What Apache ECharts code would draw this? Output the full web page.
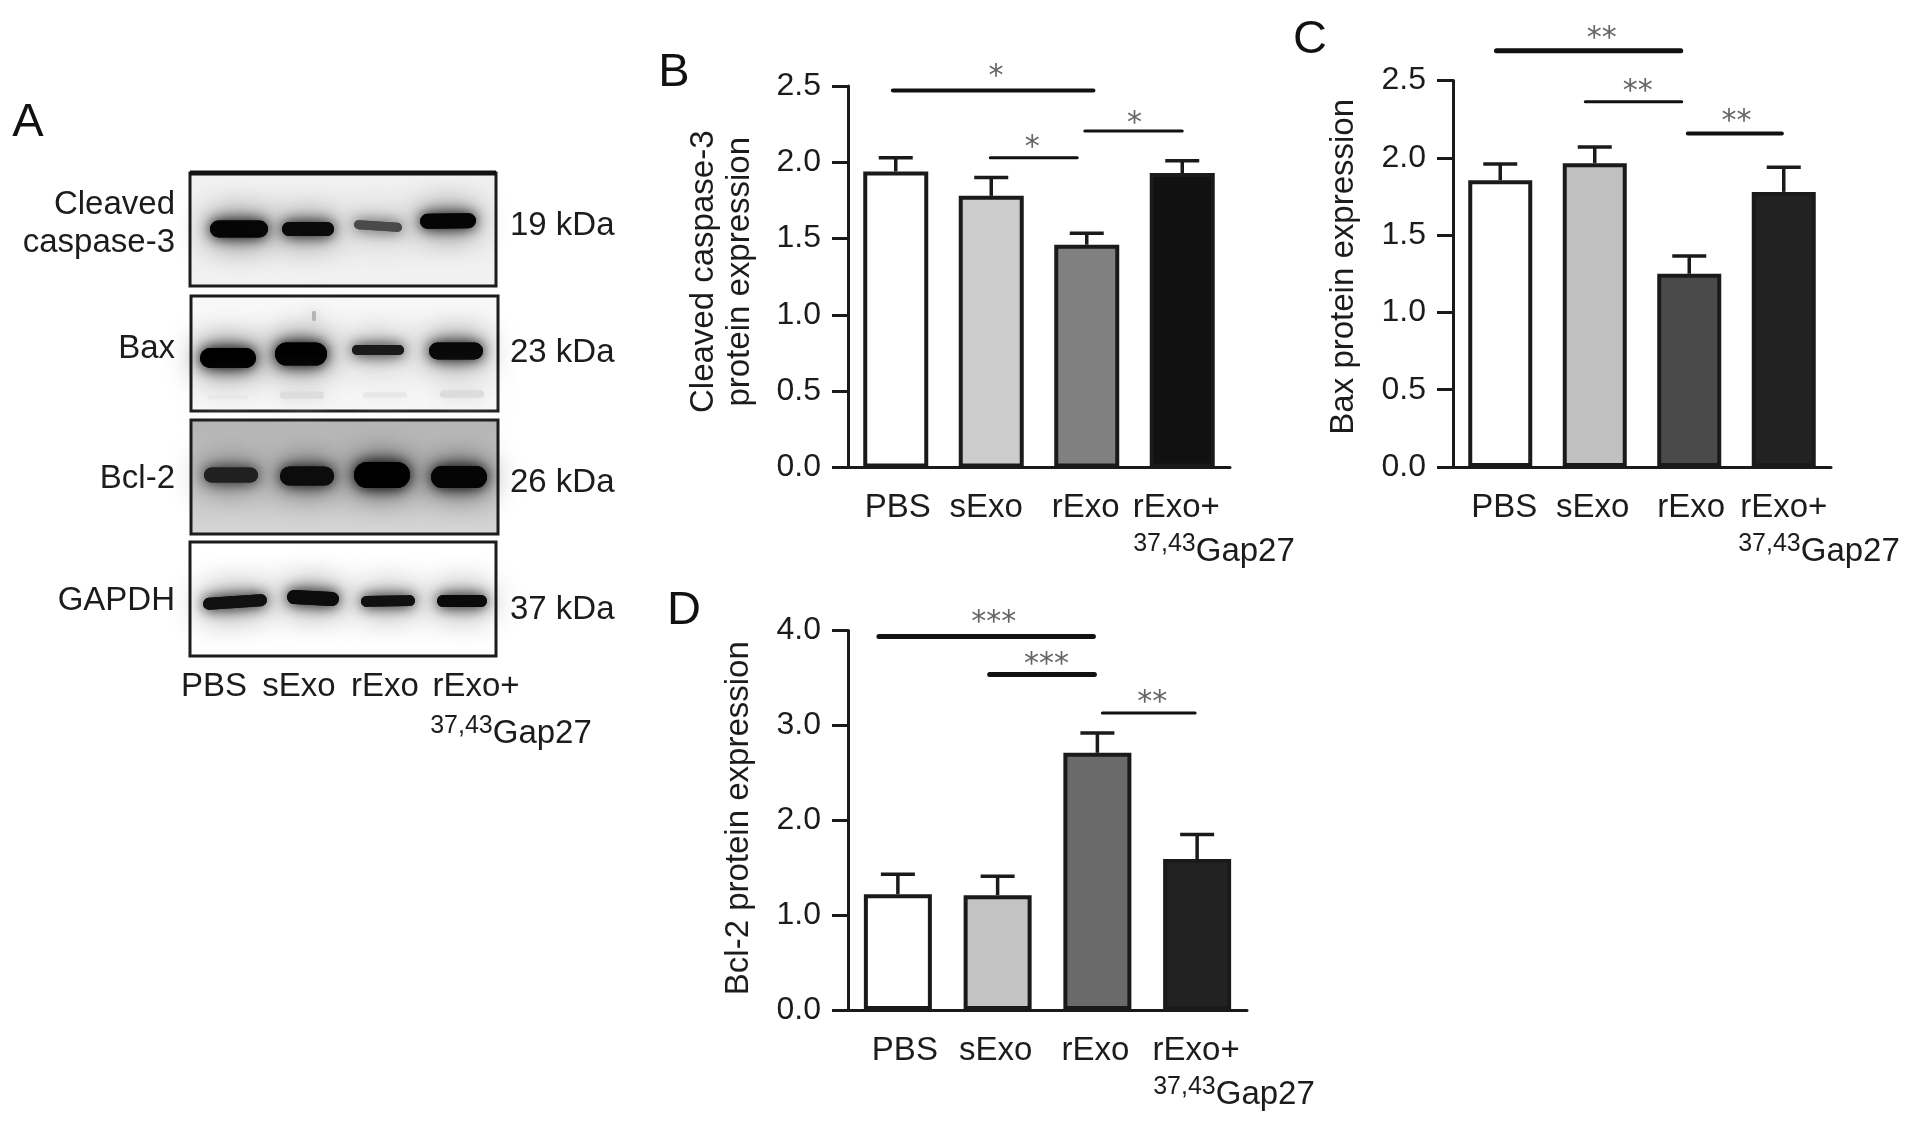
<!DOCTYPE html>
<html>
<head>
<meta charset="utf-8">
<style>html,body{margin:0;background:#fff}#main{width:1913px;height:1125px}</style>
<script src="https://cdn.jsdelivr.net/npm/echarts@6/dist/echarts.min.js"></script>
</head>
<body>
<div id="main"></div>
<script>
var groups = ['PBS', 'sExo', 'rExo', 'rExo+'];

// bar heights and upper error limits
var caspaseMean = [1.94, 1.78, 1.46, 1.93];
var caspaseUpper = [2.03, 1.90, 1.535, 2.01];
var baxMean = [1.855, 1.966, 1.25, 1.78];
var baxUpper = [1.96, 2.07, 1.365, 1.94];
var bclMean = [1.22, 1.21, 2.71, 1.59];
var bclUpper = [1.43, 1.41, 2.92, 1.85];

// significance lines: [from, to, y, line width], x in group units
var caspaseLines = [[-0.03, 2.07, 2.47, 4], [0.99, 1.90, 2.03, 3], [1.98, 3.0, 2.205, 3]];
var baxLines = [[-0.04, 1.91, 2.693, 5], [0.9, 1.92, 2.363, 3], [1.985, 2.98, 2.157, 4]];
var bclLines = [[-0.19, 1.96, 3.935, 5], [0.92, 1.97, 3.535, 5], [2.05, 2.98, 3.13, 3]];
// stars: [x, y, text]
var caspaseStars = [[1.05, 2.6, '*'], [1.43, 2.13, '*'], [2.5, 2.29, '*']];
var baxStars = [[1.075, 2.807, '**'], [1.455, 2.465, '**'], [2.5, 2.27, '**']];
var bclStars = [[0.96, 4.136, '***'], [1.49, 3.70, '***'], [2.55, 3.30, '**']];

// western blot, in px of the blot area: [x, y, w, h, ink, angle]
var blotFrames = [
  [190, 173, 306, 113, '#f1f1f1', 3],
  [191, 296, 307, 115, '#f8f8f8', 3],
  [191, 420, 307, 114, '#c6c6c6', 3],
  [190, 542, 306, 114, '#ffffff', 3]
];
var blotBands = [
  [239, 229, 58, 17, '#050505', 0], [308, 229, 52, 14, '#0a0a0a', 0], [378, 226, 48, 9, '#4a4a4a', 4], [448, 221, 56, 15, '#050505', -1],
  [228, 358, 56, 20, '#000000', 0], [301, 354, 52, 23, '#000000', 0], [378, 350, 52, 10, '#1a1a1a', 0], [456, 351, 54, 17, '#080808', 0],
  [231, 475, 54, 15, '#202020', 0], [307, 476, 54, 19, '#0c0c0c', 0], [382, 475, 56, 26, '#000000', 0], [459, 477, 56, 22, '#050505', 0],
  [235, 602, 64, 12, '#111111', -4], [313, 598, 52, 14, '#0c0c0c', 3], [388, 601, 54, 11, '#111111', -1], [462, 601, 50, 12, '#0a0a0a', 0],
  [228, 397, 40, 4, '#e8e8e8', 0], [302, 395, 44, 7, '#dddddd', 0], [385, 395, 44, 5, '#e8e8e8', 0], [462, 394, 44, 7, '#dcdcdc', 0],
  [314, 316, 4, 10, '#b5b5b5', 0]
];
var blotNames = ['Cleaved\ncaspase-3', 'Bax', 'Bcl-2', 'GAPDH'];
var blotNameY = [224, 349, 479, 601];
var blotKda = ['19 kDa', '23 kDa', '26 kDa', '37 kDa'];
var blotKdaY = [226, 353, 483, 610];
var blotLaneX = [214, 299, 385, 476];
var blotLaneY = 687;

var font = '"Liberation Sans", Arial, sans-serif';
var ink = '#1c1c1c';

var chart = echarts.init(document.getElementById('main'));
var grids = [], xAxes = [], yAxes = [], series = [], graphics = [];

function addPanel(p) {
  var g = grids.length;
  grids.push({ left: p.left, top: p.top, width: p.width, height: p.height });
  var xc = xAxes.length;
  xAxes.push({
    type: 'category', gridIndex: g,
    data: groups.map(function (n, i) {
      var s = p.labelShift[i];
      return { value: n, textStyle: { padding: [0, s < 0 ? -2 * s : 0, 0, s > 0 ? 2 * s : 0] } };
    }),
    axisLine: { onZero: false, lineStyle: { color: '#1a1a1a', width: 3 } },
    axisTick: { alignWithLabel: true, length: 14, lineStyle: { color: '#1a1a1a', width: 3 } },
    axisLabel: { interval: 0, color: ink, fontFamily: font, fontSize: 33, margin: 24 }
  });
  var xv = xc + 1;
  xAxes.push({ type: 'value', gridIndex: g, min: -0.5, max: 3.5, show: false });
  yAxes.push({
    type: 'value', gridIndex: g, min: 0, max: p.max, interval: p.step,
    name: p.title, nameLocation: 'middle', nameRotate: 90, nameGap: p.nameGap,
    nameTextStyle: { color: ink, fontFamily: font, fontSize: 33, lineHeight: 36, padding: [0, 0, 0, p.nameUp * 2] },
    axisLine: { show: true, onZero: false, lineStyle: { color: '#1a1a1a', width: 3 } },
    axisTick: { show: true, length: 16, lineStyle: { color: '#1a1a1a', width: 3 } },
    axisLabel: { color: ink, fontFamily: font, fontSize: 32, margin: 27, padding: [7, 0, 0, 0],
      formatter: function (v) { return v.toFixed(1); } },
    splitLine: { show: false }
  });
  series.push({
    type: 'bar', xAxisIndex: xc, yAxisIndex: g, barWidth: p.barWidth,
    data: p.mean.map(function (v, i) { return { value: v, itemStyle: { color: p.colors[i] } }; }),
    itemStyle: { borderColor: '#1a1a1a', borderWidth: 4 },
    silent: true, z: 3
  });
  // error bars, only the upper half shows
  series.push({
    type: 'custom', xAxisIndex: xc, yAxisIndex: g, clip: false, silent: true, z: 2,
    data: p.mean.map(function (v, i) { return [i, v, p.upper[i]]; }),
    renderItem: function (params, api) {
      var a = api.coord([api.value(0), api.value(1)]);
      var b = api.coord([api.value(0), api.value(2)]);
      var st = { stroke: '#1a1a1a', lineWidth: 3.5, fill: null };
      return { type: 'group', children: [
        { type: 'line', shape: { x1: a[0], y1: a[1], x2: b[0], y2: b[1] }, style: st },
        { type: 'line', shape: { x1: b[0] - 17, y1: b[1], x2: b[0] + 17, y2: b[1] }, style: st }
      ] };
    }
  });
  series.push({
    type: 'custom', xAxisIndex: xv, yAxisIndex: g, clip: false, silent: true, z: 4,
    data: p.lines,
    renderItem: function (params, api) {
      var a = api.coord([api.value(0), api.value(2)]);
      var b = api.coord([api.value(1), api.value(2)]);
      return { type: 'line', shape: { x1: a[0], y1: a[1], x2: b[0], y2: b[1] },
        style: { stroke: '#111', lineWidth: api.value(3), lineCap: 'round', fill: null } };
    }
  });
  series.push({
    type: 'custom', xAxisIndex: xv, yAxisIndex: g, clip: false, silent: true, z: 4,
    data: p.stars,
    renderItem: function (params, api) {
      var a = api.coord([api.value(0), api.value(1)]);
      return { type: 'text', x: a[0], y: a[1] + 6, style: {
        text: p.stars[params.dataIndex][2], fill: '#666', font: '30px "DejaVu Sans"', align: 'center', verticalAlign: 'middle' } };
    }
  });
  // second line of the last label runs off to the right of the tick
  graphics.push(gapLabel(p.gapX, p.gapY));
}

function gapLabel(x, y) {
  return { type: 'text', x: x, y: y, silent: true, style: {
    text: '{s|37,43}{m|Gap27}', align: 'center', verticalAlign: 'middle', fill: ink,
    rich: {
      s: { fontFamily: font, fontSize: 25, fill: ink, padding: [0, 0, 15, 0] },
      m: { fontFamily: font, fontSize: 33, fill: ink }
    }
  } };
}

function plainText(t, x, y, align, size) {
  return { type: 'text', x: x, y: y, silent: true, style: {
    text: t, fill: size > 40 ? '#111' : ink, font: size + 'px ' + font, align: align, verticalAlign: 'middle', lineHeight: 38 } };
}

// panel A lives on its own hidden grid, one axis unit is one pixel
grids.push({ left: 0, top: 0, width: 1913, height: 1125 });
xAxes.push({ type: 'value', gridIndex: 0, min: 0, max: 1913, show: false });
yAxes.push({ type: 'value', gridIndex: 0, min: 0, max: 1125, inverse: true, show: false });
series.push({
  type: 'custom', xAxisIndex: 0, yAxisIndex: 0, clip: false, silent: true, z: 1,
  data: blotFrames.map(function (f) { return f.slice(0, 4); }),
  renderItem: function (params, api) {
    var f = blotFrames[params.dataIndex];
    var a = api.coord([f[0], f[1]]);
    var fill = f[4];
    if (params.dataIndex === 2) {
      fill = new echarts.graphic.LinearGradient(0, 0, 0, 1, [
        { offset: 0, color: '#b4b4b4' }, { offset: 0.7, color: '#cccccc' }, { offset: 1, color: '#d6d6d6' }]);
    }
    var kids = [{ type: 'rect', shape: { x: a[0], y: a[1], width: f[2], height: f[3] },
      style: { fill: fill, stroke: '#1c1c1c', lineWidth: f[5] } }];
    // the first blot has a heavier top edge
    if (params.dataIndex === 0) {
      kids.push({ type: 'line', shape: { x1: a[0], y1: a[1], x2: a[0] + f[2], y2: a[1] },
        style: { stroke: '#111', lineWidth: 5, fill: null } });
    }
    return { type: 'group', children: kids };
  }
});
series.push({
  type: 'custom', xAxisIndex: 0, yAxisIndex: 0, clip: false, silent: true, z: 2,
  data: blotBands.map(function (b) { return b.slice(0, 4); }),
  renderItem: function (params, api) {
    var b = blotBands[params.dataIndex];
    var c = api.coord([b[0], b[1]]);
    var shape = { x: -b[2] / 2, y: -b[3] / 2, width: b[2], height: b[3], r: b[3] / 2 };
    var rot = -b[5] * Math.PI / 180;
    // wide faint halo first, then the band with a tighter blur
    return { type: 'group', x: c[0], y: c[1], rotation: rot, children: [
      { type: 'rect', shape: shape, style: { fill: b[4], shadowColor: b[4], shadowBlur: 34 } },
      { type: 'rect', shape: shape, style: { fill: b[4], shadowColor: b[4], shadowBlur: 14 } }
    ] };
  }
});

addPanel({ left: 848, top: 86, width: 382, height: 381.5, max: 2.5, step: 0.5, barWidth: 65,
  title: 'Cleaved caspase-3\nprotein expression', nameGap: 90, nameUp: 5, labelShift: [2, -5, -1, -6],
  mean: caspaseMean, upper: caspaseUpper,
  colors: ['#ffffff', '#cccccc', '#808080', '#111111'], lines: caspaseLines, stars: caspaseStars, gapX: 1214, gapY: 552 });
addPanel({ left: 1453, top: 80.6, width: 378, height: 386.4, max: 2.5, step: 0.5, barWidth: 64,
  title: 'Bax protein expression', nameGap: 91, nameUp: 7, labelShift: [4, -2, 2, 0],
  mean: baxMean, upper: baxUpper,
  colors: ['#ffffff', '#c0c0c0', '#4a4a4a', '#222222'], lines: baxLines, stars: baxStars, gapX: 1819, gapY: 552 });
addPanel({ left: 848, top: 630.4, width: 399, height: 379.6, max: 4, step: 1, barWidth: 68,
  title: 'Bcl-2 protein expression', nameGap: 91, nameUp: 2, labelShift: [7, -2, -2, -1],
  mean: bclMean, upper: bclUpper,
  colors: ['#ffffff', '#c3c3c3', '#6a6a6a', '#222222'], lines: bclLines, stars: bclStars, gapX: 1234, gapY: 1095 });

// panel letters
graphics.push(plainText('A', 28, 123, 'center', 47));
graphics.push(plainText('B', 674, 73, 'center', 47));
graphics.push(plainText('C', 1310, 40, 'center', 47));
graphics.push(plainText('D', 684, 611, 'center', 47));

// blot labels
blotNames.forEach(function (n, i) {
  graphics.push(plainText(n, 175, blotNameY[i], 'right', 33));
  graphics.push(plainText(blotKda[i], 510, blotKdaY[i], 'left', 33));
});
groups.forEach(function (n, i) {
  graphics.push(plainText(n, blotLaneX[i], blotLaneY, 'center', 33));
});
graphics.push(gapLabel(511, 734));

chart.setOption({
  animation: false,
  backgroundColor: '#fff',
  grid: grids,
  xAxis: xAxes,
  yAxis: yAxes,
  series: series,
  graphic: graphics
});
</script>
</body>
</html>
